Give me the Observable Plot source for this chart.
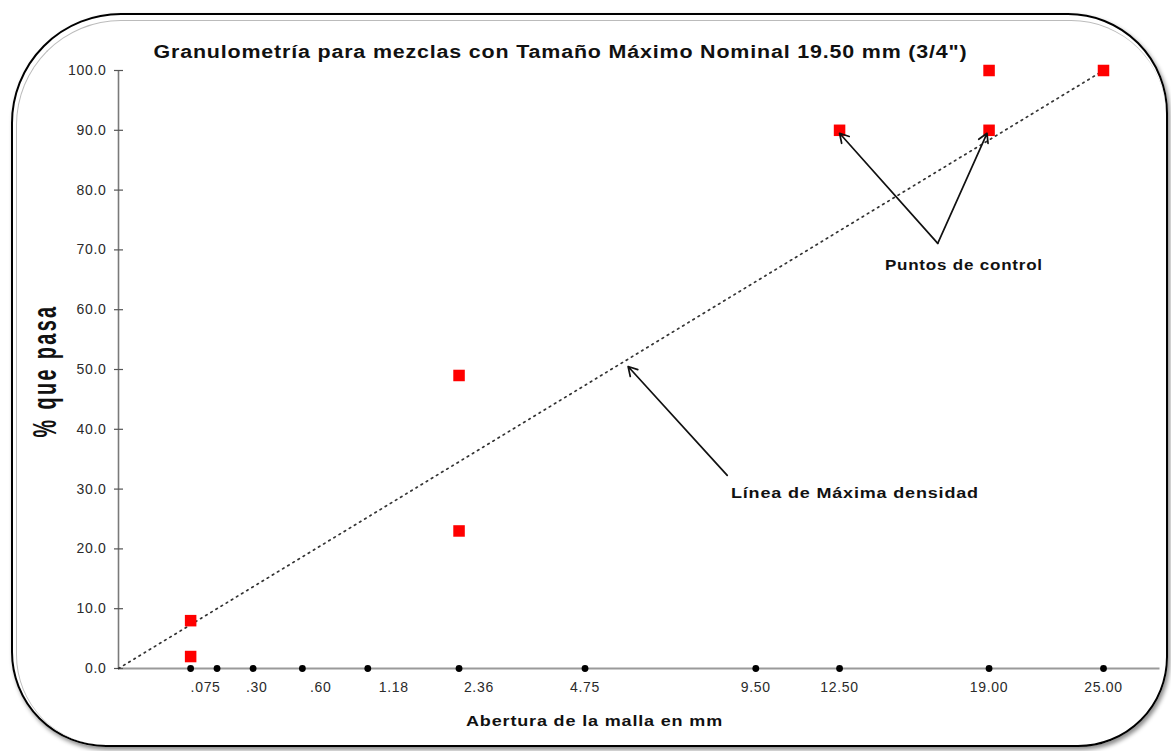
<!DOCTYPE html>
<html>
<head>
<meta charset="utf-8">
<script src="https://cdn.jsdelivr.net/npm/d3@7"></script>
<script src="https://cdn.jsdelivr.net/npm/@observablehq/plot@0.6"></script>
<style>
  html, body { margin: 0; padding: 0; background: #fff; }
  #wrap { position: relative; width: 1171px; height: 751px; overflow: hidden; background: #fff; }
  #frame { position: absolute; left: 11px; top: 13px; width: 1157px; height: 734px; box-sizing: border-box;
           border: 2px solid #000; border-radius: 110px 100px 90px 95px;
           box-shadow: 2px 3px 4px rgba(0,0,0,0.45); pointer-events: none; }
  #inner { position: absolute; left: 3px; top: 5px; right: 0px; bottom: 0px;
           border-top: 1.5px solid #bbb; border-left: 1.5px solid #bbb; border-radius: 105px 95px 85px 90px; }
  #chart { position: absolute; left: 0; top: 0; }
  #ylab { position: absolute; left: 45px; top: 371px; transform: translate(-50%, -50%) rotate(-90deg) scaleX(0.6);
          font-family: "Liberation Sans", Arial, sans-serif; font-weight: bold; font-size: 33px; color: #111;
          white-space: nowrap; letter-spacing: 4px; }
  svg text { letter-spacing: 0.7px; }
</style>
</head>
<body>
<div id="wrap">
  <div id="frame"><div id="inner"></div></div>
  <div id="chart"></div>
  <div id="ylab">% que pasa</div>
</div>
<script>
// ---- data ----
const sieveSizes = [0.075, 0.15, 0.3, 0.6, 1.18, 2.36, 4.75, 9.5, 12.5, 19, 25];
const xLabels   = [".075", ".30", ".60", "1.18", "2.36", "4.75", "9.50", "12.50", "19.00", "25.00"];
const xLabelAt  = [0.114, 0.318, 0.741, 1.471, 2.677, 4.75, 9.5, 12.5, 19, 25];
const ctrlSize  = [0.075, 0.075, 2.36, 2.36, 12.5, 19, 19, 25];
const ctrlPass  = [8, 2, 49, 23, 90, 100, 90, 100];
const maxDensSize = [0, 25];
const maxDensPass = [0, 100];
const yTicks = [0, 10, 20, 30, 40, 50, 60, 70, 80, 90, 100];
const titleText = "Granulometría para mezclas con Tamaño Máximo Nominal 19.50 mm (3/4\")";
const xTitle = "Abertura de la malla en mm";
const noteTexts = ["Puntos de control", "Línea de Máxima densidad"];
const noteSize  = [17.8, 13.1];
const notePass  = [67.4, 29.3];
const arrowFromSize = [16.6, 16.6, 8.58];
const arrowFromPass = [71.1, 71.1, 32.3];
const arrowToSize   = [12.5, 18.9, 5.78];
const arrowToPass   = [89.5, 89.5, 50.5];
const axisEndSize = 28.3;

const ctrl = ctrlSize.map((s, i) => ({s, p: ctrlPass[i]}));
const maxDens = maxDensSize.map((s, i) => ({s, p: maxDensPass[i]}));
const xl = xLabels.map((t, i) => ({t, s: xLabelAt[i]}));
const notes = noteTexts.map((t, i) => ({t, s: noteSize[i], p: notePass[i]}));
const arrows = arrowFromSize.map((s, i) => ({x1: s, y1: arrowFromPass[i], x2: arrowToSize[i], y2: arrowToPass[i]}));

const hTick = { draw(ctx, size) { ctx.moveTo(-4.5, 0); ctx.lineTo(4.5, 0); } };

const font = "'Liberation Sans', Arial, sans-serif";

const plot = Plot.plot({
  width: 1171,
  height: 751,
  marginLeft: 118,
  marginRight: 68,
  marginTop: 70,
  marginBottom: 83,
  style: { fontFamily: font, fontSize: "14px", background: "transparent", color: "#333", overflow: "visible" },
  x: { type: "pow", exponent: 0.45, domain: [0, 25], axis: null },
  y: { domain: [0, 100], axis: null },
  marks: [
    // axes lines
    Plot.ruleY([0], { x1: 0, x2: axisEndSize, stroke: "#9a9a9a", strokeWidth: 2 }),
    Plot.ruleX([0], { y1: 0, y2: 100, stroke: "#7a7a7a", strokeWidth: 1.6 }),
    Plot.dot(yTicks, { x: 0, y: d => d, symbol: hTick, stroke: "#555", strokeWidth: 1.2, r: 3 }),
    Plot.text(yTicks, { x: 0, y: d => d, text: d => d.toFixed(1), textAnchor: "end", dx: -12, fill: "#2a2a2a", fontSize: 14 }),
    // x tick dots & labels
    Plot.dot(sieveSizes, { x: d => d, y: 0, fill: "#000", r: 3.4 }),
    Plot.text(xl, { x: "s", y: 0, text: "t", dy: 19, fill: "#2a2a2a", fontSize: 14 }),
    // maximum density line
    Plot.line(maxDens, { x: "s", y: "p", stroke: "#333", strokeWidth: 1.7, strokeDasharray: "1.6,4.4" }),
    // control points
    Plot.dot(ctrl, { x: "s", y: "p", symbol: "square", fill: "#ff0000", r: 6.5 }),
    // annotations
    Plot.arrow(arrows, { x1: "x1", y1: "y1", x2: "x2", y2: "y2", stroke: "#111", strokeWidth: 1.7, headLength: 9 }),
    Plot.text(notes, { x: "s", y: "p", text: "t", fontWeight: "bold", fontSize: 15, fill: "#111", className: "note" }),
    // title and x axis title
    Plot.text([titleText], { frameAnchor: "top", dx: -50.5, dy: -25, text: d => d, fontWeight: "bold", fontSize: 18, fill: "#111", className: "ttl" }),
    Plot.text([xTitle], { frameAnchor: "bottom", dx: -16.5, dy: 57, text: d => d, fontWeight: "bold", fontSize: 15, fill: "#111", className: "xttl" })
  ]
});
document.getElementById("chart").appendChild(plot);

// stretch texts to the measured widths of the reference
const fit = (cls, widths) => {
  d3.select(plot).selectAll("g." + cls + " text").each(function(d, i) {
    this.setAttribute("textLength", widths[i]);
    this.setAttribute("lengthAdjust", "spacingAndGlyphs");
  });
};
fit("ttl", [814]);
fit("xttl", [257]);
fit("note", [158, 248]);
</script>
</body>
</html>
